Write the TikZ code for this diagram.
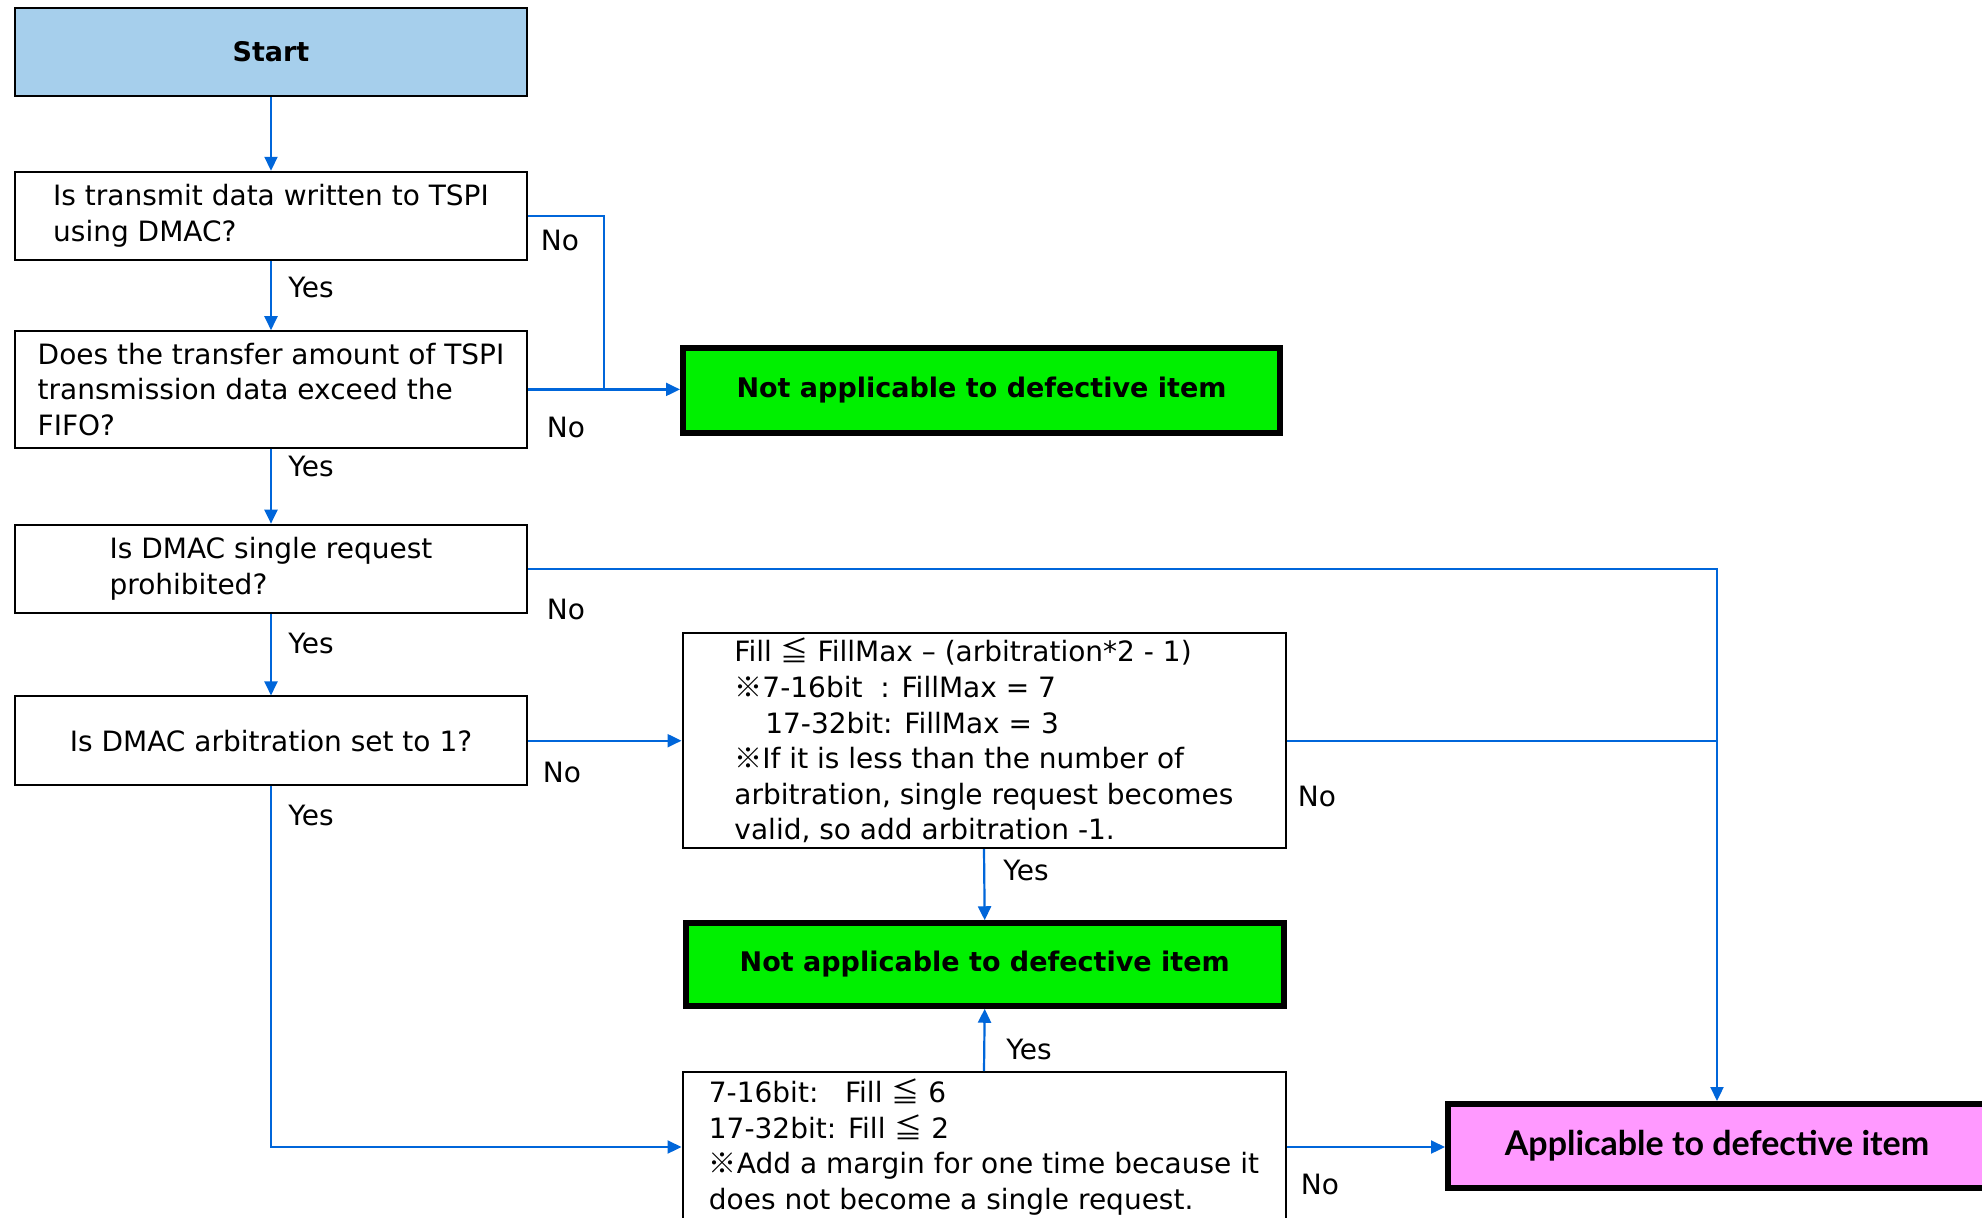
\documentclass[tikz,border=0pt]{standalone}
\usepackage{fontspec}
\setmainfont{DejaVu Sans}
\newfontfamily\cjk{Noto Sans CJK JP}
\newfontfamily\lato{Lato}
\usetikzlibrary{arrows.meta}
\definecolor{flowblue}{RGB}{0,102,218}
\definecolor{startblue}{RGB}{166,207,236}
\definecolor{okgreen}{RGB}{0,240,0}
\definecolor{badpink}{RGB}{255,153,255}
\newcommand{\refmark}{{\cjk ※}}
\newcommand{\leqq}{{\cjk ≦}}
\begin{document}
\begin{tikzpicture}[x=0.5pt,y=-0.5pt,
  body/.style={font=\fontsize{14pt}{17.8pt}\selectfont},
  qbox/.style={body,draw=black,line width=1pt,align=left,inner sep=0pt,
    minimum width=256pt,minimum height=44.25pt},
  notebox/.style={body,draw=black,line width=1pt,align=left,inner sep=0pt,
    minimum width=301.5pt},
  okbox/.style={draw=black,line width=3pt,fill=okgreen,inner sep=0pt,
    font=\bfseries\fontsize{13.5pt}{17pt}\selectfont},
  flow/.style={draw=flowblue,line width=1.1pt},
  arr/.style={flow,-{Triangle[length=7pt,width=6.5pt]}},
  lbl/.style={body,inner sep=0pt}]
\clip (0,0) rectangle (1982,1217);
\fill[white] (0,0) rectangle (1982,1217);

% left column of decisions
\node[qbox,fill=startblue,font=\bfseries\fontsize{13.5pt}{17pt}\selectfont] (start) at (271,51.8) {Start};
\node[qbox] (q1) at (271,216) {Is transmit data written to TSPI\\using DMAC?};
\node[qbox,minimum height=58.2pt] (q2) at (271,389.4) {Does the transfer amount of TSPI\\transmission data exceed the\\FIFO?};
\node[qbox] (q3) at (271,568.9) {Is DMAC single request\\prohibited?};
\node[qbox] (q4) at (271,740.7) {Is DMAC arbitration set to 1?};

% results and conditions
\node[okbox,minimum width=298.5pt,minimum height=42.5pt] (g1) at (981.5,390.5) {Not applicable to defective item};
\node[notebox,minimum height=107.5pt] (b5) at (984,740.7)
  {Fill \leqq{} FillMax – (arbitration*2 - 1)\\
   \refmark7-16bit\ \ : FillMax = 7\\
   \hspace*{1.1em}17-32bit: FillMax = 3\\
   \refmark If it is less than the number of\\
   arbitration, single request becomes\\
   valid, so add arbitration -1.};
\node[okbox,minimum width=299pt,minimum height=41.25pt] (g2) at (984.7,964.5) {Not applicable to defective item};
\node[notebox,minimum height=75pt] (b6) at (984,1147)
  {7-16bit:\ \ \ Fill \leqq{} 6\\
   17-32bit: Fill \leqq{} 2\\
   \refmark Add a margin for one time because it\\
   does not become a single request.};
\node[draw=black,line width=3pt,fill=badpink,inner sep=0pt,
  minimum width=269pt,minimum height=41.9pt,
  font=\lato\bfseries\fontsize{17pt}{20pt}\selectfont] (bad) at (1717,1145.9) {Applicable to defective item};

% connectors
\coordinate (j1) at (604,389.4);
\draw[arr] (start) -- (q1);
\draw[arr] (q1) -- (q2);
\draw[arr] (q2) -- (q3);
\draw[arr] (q3) -- (q4);
\draw[flow] (q1.east) -| (j1);
\draw[arr] (q2.east) -- (q2.east -| g1.west);
\draw[arr] (q3.east) -| (bad.north);
\draw[arr] (q4.east) -- (q4.east -| b5.west);
\draw[arr] (q4.south) |- (b6.west);
\draw[flow] (b5.east) -- (b5.east -| bad.north);
\draw[arr] (b5.south) -- (g2.north);
\draw[arr] (b6.north) -- (g2.south);
\draw[arr] (b6.east) -- (b6.east -| bad.west);

% branch labels
\node[lbl] (n1) at (560,240) {No};
\node[lbl] (y1) at (311,287) {Yes};
\node[lbl] (n2) at (566,427) {No};
\node[lbl] (y2) at (311,466) {Yes};
\node[lbl] (n3) at (566,609) {No};
\node[lbl] (y3) at (311,643) {Yes};
\node[lbl] (n4) at (562,772) {No};
\node[lbl] (y4) at (311,815) {Yes};
\node[lbl] (n5) at (1317,796) {No};
\node[lbl] (y5) at (1026,870) {Yes};
\node[lbl] (y6) at (1029,1049) {Yes};
\node[lbl] (n6) at (1320,1184) {No};
\end{tikzpicture}
\end{document}
